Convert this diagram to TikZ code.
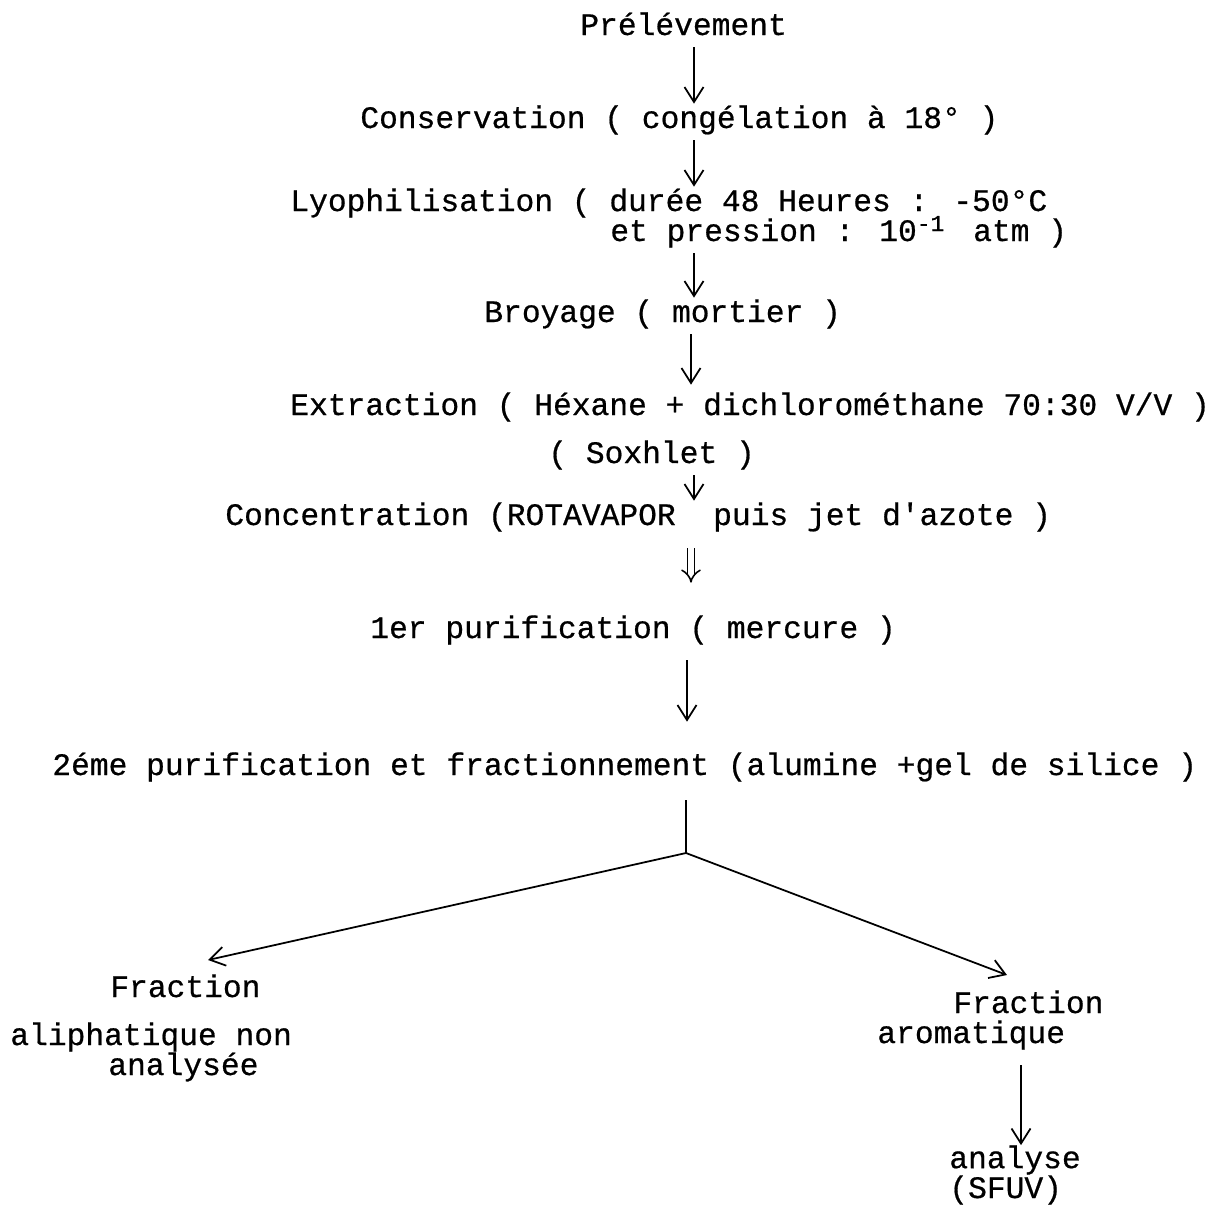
\documentclass[tikz,border=0pt]{standalone}
\usepackage{fontspec}
\newfontfamily\machine{Liberation Mono}[FakeBold=0.6]
\newcommand{\ecriture}{\machine\fontsize{17.8}{17}\selectfont}
\newcommand{\exposant}[1]{\makebox[21.36pt][l]{\raisebox{0.6ex}{\fontsize{13}{13}\selectfont #1}}}
\usetikzlibrary{arrows.meta}

\begin{document}
\begin{tikzpicture}[x=0.02cm, y=-0.02cm,
        etape/.style={font=\ecriture, anchor=base west, inner sep=0pt,
                      text height=0.48cm, text depth=0.24cm},
        deuxlignes/.style={font=\ecriture, anchor=base west, inner sep=0pt, align=left},
        fleche/.style={-{Straight Barb[length=3mm,width=3.8mm]}, line width=1pt},
        flechedouble/.style={-{Implies}, double, double distance=3pt, line width=0.9pt}]
        \useasboundingbox (0,0) rectangle (1213,1205);

        % etapes du traitement
        \node[etape] (prelev)   at (580, 35)  {Prélévement};
        \node[etape] (conserv)  at (360, 128) {Conservation ( congélation à 18° )};
        \node[etape] (lyo)      at (290, 211) {Lyophilisation ( durée 48 Heures : -50°C};
        \node[etape] (lyobis)   at (610, 241) {et pression : 10\exposant{-1}\ atm )};
        \node[etape] (broyage)  at (484, 322) {Broyage ( mortier )};
        \node[etape] (extract)  at (290, 415) {Extraction ( Héxane + dichlorométhane 70:30 V/V )};
        \node[etape] (soxhlet)  at (548, 463) {( Soxhlet )};
        \node[etape] (concent)  at (225, 525) {Concentration (ROTAVAPOR\ \ puis jet d'azote )};
        \node[etape] (purif)    at (370, 638) {1er purification ( mercure )};
        \node[etape] (fraction) at (52, 775)  {2éme purification et fractionnement (alumine +gel de silice )};

        % les deux fractions
        \node[etape] (aliph)    at (110, 997)  {Fraction};
        \node[etape] (aliphb)   at (10, 1045)  {aliphatique non};
        \node[etape] (aliphc)   at (108, 1075) {analysée};
        \node[etape] (aroma)    at (953, 1013) {Fraction};
        \node[etape] (aromab)   at (877, 1043) {aromatique};
        \node[deuxlignes] (analyse) at (949, 1198) {analyse\\(SFUV)};

        % axes des fleches
        \coordinate (axeA) at (694,0);
        \coordinate (axeB) at (691,0);
        \coordinate (axeC) at (687,0);
        \coordinate (axeD) at (1021,0);
        \coordinate (fourche) at (686,853);
        \coordinate (pointeG) at (208,960);
        \coordinate (pointeD) at (1007,975);

        \draw[fleche] (prelev.south -| axeA) -- (conserv.north -| axeA);
        \draw[fleche] (conserv.south -| axeA) -- (lyo.north -| axeA);
        \draw[fleche] (lyobis.south -| axeA) -- (broyage.north -| axeA);
        \draw[fleche] (broyage.south -| axeB) -- ([yshift=0.12cm]extract.north -| axeB);
        \draw[fleche] (soxhlet.south -| axeA) -- (concent.north -| axeA);
        \draw[flechedouble, shorten <=0.22cm] (concent.south -| axeB) -- ([yshift=0.62cm]purif.north -| axeB);
        \draw[fleche, shorten <=0.2cm, shorten >=0.58cm] (purif.south -| axeC) -- (fraction.north -| axeC);
        \draw[line width=1pt, shorten <=0.26cm] (fraction.south -| fourche) -- (fourche);
        \draw[fleche] (fourche) -- (pointeG);
        \draw[fleche] (fourche) -- (pointeD);
        \draw[fleche, shorten <=0.2cm] (aromab.south -| axeD) -- (analyse.north -| axeD);
    \end{tikzpicture}
\end{document}
